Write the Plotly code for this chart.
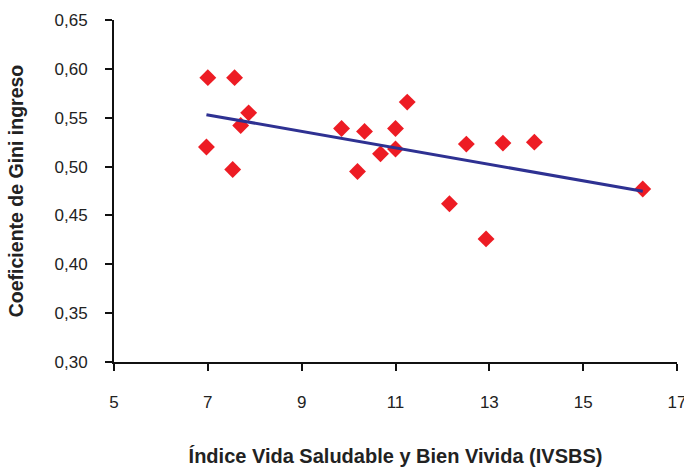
import numpy as np
import plotly.graph_objects as go

# Data
ivsbs = [7.00, 7.57, 7.87, 7.70, 6.97, 7.53, 9.85, 10.34, 10.19, 10.68,
         11.00, 11.00, 11.25, 12.15, 12.51, 12.93, 13.29, 13.96, 16.27]
gini = [0.591, 0.591, 0.555, 0.542, 0.520, 0.497, 0.539, 0.536, 0.495, 0.513,
        0.539, 0.518, 0.566, 0.462, 0.523, 0.426, 0.524, 0.525, 0.477]

x_ticks = [5, 7, 9, 11, 13, 15, 17]
y_ticks = [0.30, 0.35, 0.40, 0.45, 0.50, 0.55, 0.60, 0.65]

# Linear trend (least squares)
slope, intercept = np.polyfit(ivsbs, gini, 1)
trend_x = [min(ivsbs), max(ivsbs)]
trend_y = [slope * v + intercept for v in trend_x]

font_family = "Liberation Sans, Arial, sans-serif"

fig = go.Figure()
fig.add_trace(go.Scatter(
    x=ivsbs, y=gini, mode="markers",
    marker=dict(symbol="diamond", size=13, color="#ED1C24", line=dict(width=0)),
    showlegend=False,
))
fig.add_trace(go.Scatter(
    x=trend_x, y=trend_y, mode="lines",
    line=dict(color="#2E3192", width=3),
    showlegend=False,
))

fig.update_layout(
    width=684, height=469,
    margin=dict(l=114, r=7, t=20, b=107),
    paper_bgcolor="white", plot_bgcolor="white",
    separators=",.",
    font=dict(family=font_family, color="#222222", size=17),
    xaxis=dict(
        range=[5, 17], tickvals=x_ticks, ticktext=[str(v) for v in x_ticks],
        showgrid=False, zeroline=False, automargin=False,
        showline=True, linecolor="#111111", linewidth=2,
        ticks="outside", ticklen=7, tickwidth=1.5, tickcolor="#111111",
        ticklabelstandoff=17, ticklabeloverflow="allow",
        tickfont=dict(size=17, family=font_family, color="#222222"),
        title=dict(text="<b>Índice Vida Saludable y Bien Vivida (IVSBS)</b>",
                   font=dict(size=20, family=font_family, color="#222222"),
                   standoff=38),
    ),
    yaxis=dict(
        range=[0.30, 0.65], tickvals=y_ticks, tickformat=".2f",
        showgrid=False, zeroline=False, automargin=False,
        showline=True, linecolor="#111111", linewidth=2,
        ticks="outside", ticklen=7, tickwidth=1.5, tickcolor="#111111",
        ticklabelstandoff=14, ticklabeloverflow="allow",
        tickfont=dict(size=17, family=font_family, color="#222222"),
        title=dict(text="<b>Coeficiente de Gini ingreso</b>",
                   font=dict(size=19.5, family=font_family, color="#222222"),
                   standoff=26),
    ),
)

fig.write_html(
    "out.html",
    config={"displayModeBar": False},
    post_script="document.body.style.margin='0';document.body.style.overflow='hidden';",
)
